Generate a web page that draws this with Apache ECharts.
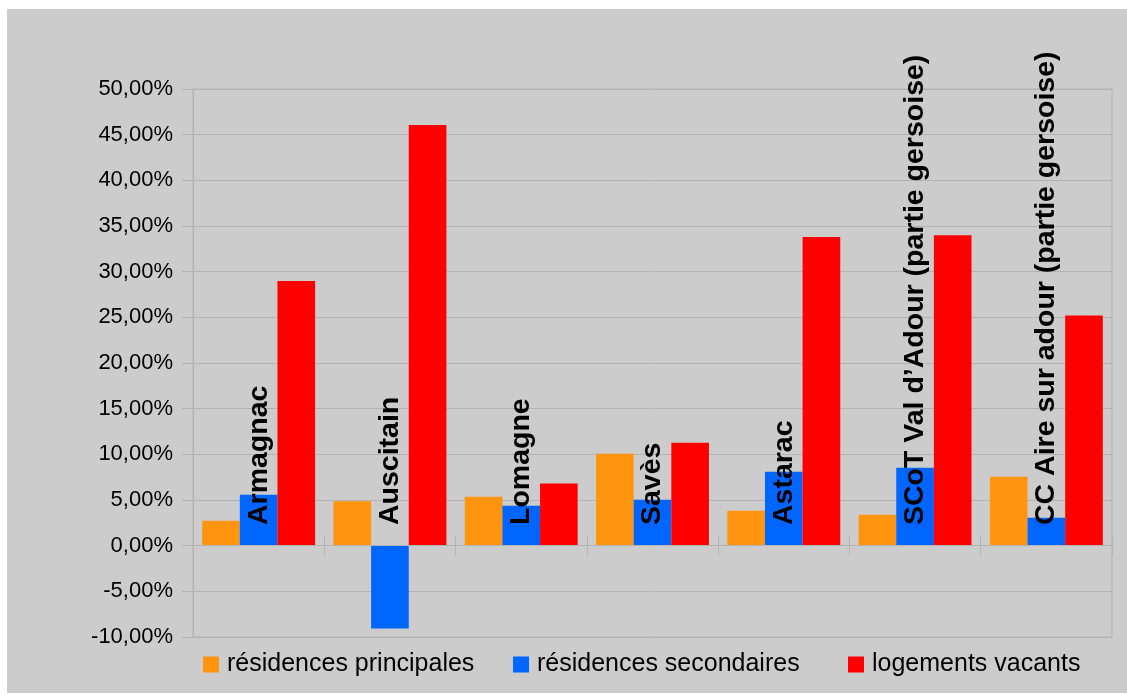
<!DOCTYPE html>
<html>
<head>
<meta charset="utf-8">
<script src="https://cdn.jsdelivr.net/npm/echarts@6/dist/echarts.min.js"></script>
<style>
html,body{margin:0;padding:0;background:#ffffff;width:1127px;height:698px;overflow:hidden;}
#chart{position:absolute;left:7px;top:9px;width:1120px;height:684px;}
</style>
</head>
<body>
<div id="chart"></div>
<script>
const categories = ["Armagnac", "Auscitain", "Lomagne", "Savès", "Astarac", "SCoT Val d\u2019Adour (partie gersoise)", "CC Aire sur adour (partie gersoise)"];
const seriesNames = ["résidences principales", "résidences secondaires", "logements vacants"];
const residencesPrincipales = [2.73, 4.85, 5.36, 10.07, 3.83, 3.39, 7.55];
const residencesSecondaires = [5.58, -9.08, 4.38, 5.03, 8.10, 8.53, 3.06];
const logementsVacants = [28.98, 46.06, 6.82, 11.27, 33.80, 34.00, 25.20];
const yMin = -10, yMax = 50, yStep = 5;
const colors = ["#ff950e", "#0066ff", "#ff0000"];

const chart = echarts.init(document.getElementById('chart'));
const font = "'Liberation Sans', Arial, sans-serif";
const gridColor = '#b3b3b3';

function legendFor(i, left) {
  return {
    data: [seriesNames[i]],
    left: left, top: 638,
    icon: 'rect', itemWidth: 16, itemHeight: 16,
    textStyle: { fontFamily: font, fontSize: 25, color: '#000', padding: [0, 0, 0, 3] },
    selectedMode: false
  };
}

const option = {
  backgroundColor: '#cccccc',
  animation: false,
  color: colors,
  legend: [legendFor(0, 191), legendFor(1, 501), legendFor(2, 836)],
  grid: { left: 186, top: 80, width: 919, height: 548, show: true, borderColor: gridColor, borderWidth: 1, backgroundColor: 'transparent' },
  xAxis: [{
    type: 'category',
    data: categories,
    z: 10,
    axisLine: { onZero: true, lineStyle: { color: gridColor, width: 1 } },
    axisTick: { show: true, interval: 0, length: 10, lineStyle: { color: gridColor } },
    axisLabel: { inside: true, rotate: 90, interval: 0, margin: 112, align: 'left', verticalAlign: 'middle', fontFamily: font, fontSize: 28.5, fontWeight: 'bold', color: '#000' },
    splitLine: { show: false }
  }, {
    type: 'category',
    data: categories,
    position: 'top',
    axisLine: { show: false, onZero: true, onZeroAxisIndex: 0 },
    axisTick: { show: true, interval: 0, inside: false, length: 10, lineStyle: { color: gridColor } },
    axisLabel: { show: false },
    splitLine: { show: false }
  }],
  yAxis: {
    type: 'value',
    min: yMin, max: yMax, interval: yStep,
    axisLine: { show: true, lineStyle: { color: gridColor } },
    axisTick: { show: true, length: 11, lineStyle: { color: gridColor } },
    axisLabel: {
      margin: 20, fontFamily: font, fontSize: 22, color: '#000',
      formatter: v => v.toFixed(2).replace('.', ',') + '%'
    },
    splitLine: { show: true, lineStyle: { color: gridColor, width: 1 } }
  },
  series: [
    { name: seriesNames[0], type: 'bar', data: residencesPrincipales, barGap: '0%', barCategoryGap: '14%', itemStyle: { color: colors[0] } },
    { name: seriesNames[1], type: 'bar', data: residencesSecondaires, barGap: '0%', barCategoryGap: '14%', itemStyle: { color: colors[1] } },
    { name: seriesNames[2], type: 'bar', data: logementsVacants, barGap: '0%', barCategoryGap: '14%', itemStyle: { color: colors[2] } }
  ]
};
chart.setOption(option);
</script>
</body>
</html>
